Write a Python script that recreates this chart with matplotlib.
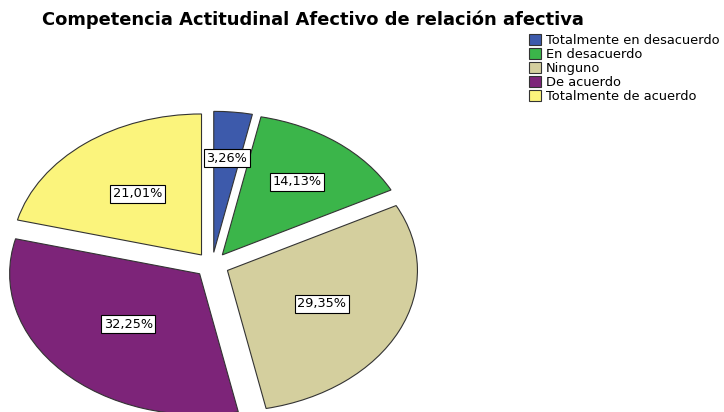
import numpy as np
import matplotlib
matplotlib.use('Agg')
import matplotlib.pyplot as plt

plt.rcParams['font.family'] = ['DejaVu Sans']

# datos
categorias = ['Totalmente en desacuerdo', 'En desacuerdo', 'Ninguno', 'De acuerdo', 'Totalmente de acuerdo']
porcentajes = [3.26, 14.13, 29.35, 32.25, 21.01]
colores = ['#3d5aab', '#3bb54a', '#d4cf9e', '#7d2479', '#fbf47c']
titulo = 'Competencia Actitudinal Afectivo de relación afectiva'

W, H = 724, 412
fig = plt.figure(figsize=(W / 100, H / 100), dpi=100)
ax = fig.add_axes([0, 0, 1, 1])

# centro y radios del pastel en pixeles (elipse)
cx, cy = 212, 265
rx, ry = 190, 141

wedges, textos, autotextos = ax.pie(
    porcentajes, colors=colores, startangle=90, counterclock=False,
    explode=[0.09] * len(porcentajes),
    autopct=lambda p: f'{p:.2f}'.replace('.', ',') + '%',
    pctdistance=0.6,
    wedgeprops=dict(edgecolor='#333333', linewidth=0.8))

# distancias de etiqueta por sector
dist_etq = [0.67, 0.65, 0.55, 0.52, 0.55]
for w, t, d in zip(wedges, autotextos, dist_etq):
    ang = np.deg2rad((w.theta1 + w.theta2) / 2)
    x0, y0 = w.center
    t.set_position((x0 + d * np.cos(ang), y0 + d * np.sin(ang)))
    t.set_fontsize(9.3)
    t.set_bbox(dict(boxstyle='square,pad=0.2', fc='white', ec='black', lw=0.8))

ax.set_aspect('auto')
ax.set_xlim(-cx / rx, (W - cx) / rx)
ax.set_ylim(-(H - cy) / ry, cy / ry)
ax.axis('off')

fig.text(42 / W, 1 - 20 / H, titulo, fontsize=12.9, fontweight='bold', va='center', ha='left')

fig.legend(wedges, categorias, loc='upper left', bbox_to_anchor=(529 / W, 1 - 34 / H),
           frameon=False, fontsize=9.4, handlelength=0.95, handleheight=0.85,
           handletextpad=0.35, labelspacing=0.08, borderaxespad=0, borderpad=0)

fig.savefig('out.png', dpi=100)
